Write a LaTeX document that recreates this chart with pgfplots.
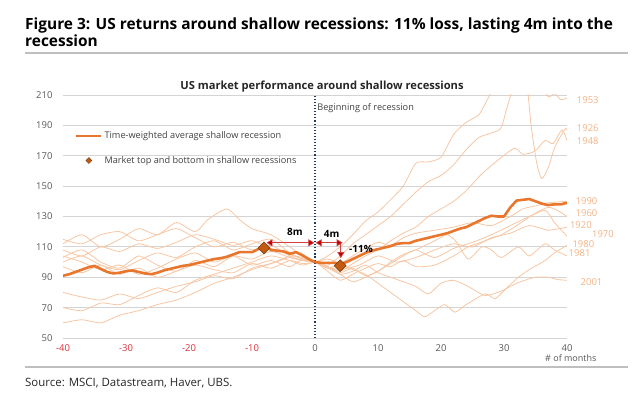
\documentclass[border=0pt]{standalone}
\usepackage{pgfplots}
\pgfplotsset{compat=1.18}
\usepackage{fontspec}
\setmainfont{Open Sans}
\usetikzlibrary{arrows.meta}
\definecolor{avgc}{HTML}{E8762C}
\definecolor{thinc}{HTML}{F7C6A4}
\definecolor{yearc}{HTML}{F4B183}
\definecolor{diac}{HTML}{C55A11}
\definecolor{diab}{HTML}{6B3A12}
\definecolor{negred}{HTML}{E0303A}
\definecolor{tickg}{HTML}{595959}
\definecolor{navy}{HTML}{1F3864}
\definecolor{arrred}{HTML}{C00000}
\begin{document}
\begin{tikzpicture}
\path[use as bounding box] (-63bp,-61bp) rectangle (577bp,338bp);
\begin{axis}[
  scale only axis, width=504bp, height=243bp,
  xmin=-40, xmax=40, ymin=50, ymax=210,
  axis line style={draw=none},
  major tick length=0pt,
  ytick={50,70,...,210},
  ymajorgrids, grid style={draw=black!17, line width=0.9bp},
  xtick={-40,-30,...,40},
  xticklabels={\textcolor{negred}{-40},\textcolor{negred}{-30},\textcolor{negred}{-20},\textcolor{negred}{-10},0,10,20,30,40},
  /pgf/number format/assume math mode=true,
  tick label style={font=\fontsize{9.5}{11}\selectfont, text=tickg},
  yticklabel style={xshift=-7bp},
  xticklabel style={yshift=-3bp},
  clip mode=individual,
  legend cell align=left,
  legend style={draw=none, fill=none, font=\fontsize{9.2}{11}\selectfont, text=black!75,
    at={(axis cs:-38.6,188.5)}, anchor=north west, row sep=12bp},
]
% thin lines
\addplot[thinc, line width=0.8bp, smooth, tension=0.4, forget plot] coordinates {(-40,103) (-37,108) (-34,100) (-31,96) (-28,104) (-25,98) (-22,94) (-19,101) (-16,97) (-13,104) (-10,102) (-7,107) (-4,103) (-2,101) (0,100) (2,97) (4,95) (7,98) (10,104) (13,100) (16,103) (19,108) (22,112) (25,110) (28,116) (31,119) (34,124) (37,121) (40,123)};
\addplot[thinc, line width=0.8bp, smooth, tension=0.4, forget plot] coordinates {(-40,100) (-37,104) (-34,98) (-31,95) (-28,101) (-25,106) (-22,103) (-19,110) (-16,114) (-13,108) (-10,112) (-7,115) (-4,106) (-2,102) (0,100) (2,98) (4,104) (6,112) (8,118) (10,124) (12,130) (14,138) (16,146) (18,153) (20,157) (22,164) (24,174) (26,182) (28,185) (29.5,188) (30.5,202) (31.5,214) (33.5,218) (34.3,190) (35.2,165) (36,155) (37,162) (38,175) (39,183) (39.8,188) (40,187)};
\addplot[thinc, line width=0.8bp, smooth, tension=0.4, forget plot] coordinates {(-40,70) (-37,68) (-34,73) (-31,72) (-28,78) (-25,83) (-22,80) (-19,88) (-16,92) (-13,96) (-10,100) (-7,104) (-4,101) (-2,98) (0,100) (2,97) (4,94) (6,99) (8,104) (10,108) (12,114) (14,119) (16,123) (18,130) (20,135) (22,140) (24,147) (26,156) (27,160) (29.6,169) (31.7,175) (33,171) (34.9,173) (36.5,180) (37.8,178) (39.2,187) (40,180)};
\addplot[thinc, line width=0.8bp, smooth, tension=0.4, forget plot] coordinates {(-40,112) (-37,118) (-34,110) (-31,115) (-28,122) (-25,118) (-22,126) (-19,120) (-17,128) (-14,135) (-12,128) (-10,122) (-7,118) (-4,110) (-2,104) (0,100) (2,104) (4,110) (6,118) (8,127) (10,133) (12,141) (14,150) (16,165) (18,166) (20,169) (22,184) (24,192) (26,197) (27.5,208) (29,218) (32,230) (35,222) (37,209) (38,211) (39,207) (40,208)};
\addplot[thinc, line width=0.8bp, smooth, tension=0.4, forget plot] coordinates {(-40,115) (-37,112) (-34,118) (-31,120) (-28,114) (-25,118) (-22,122) (-19,116) (-16,110) (-13,113) (-10,108) (-7,111) (-4,104) (-2,101) (0,100) (2,94) (4,88) (6,92) (8,96) (10,99) (12,97) (14,101) (16,97) (19,98) (22,104) (24.3,110) (27,114) (29.6,118) (32,124) (34.9,132) (37,136) (38.5,134) (40,130)};
\addplot[thinc, line width=0.8bp, smooth, tension=0.4, forget plot] coordinates {(-40,108) (-37,104) (-34,110) (-31,107) (-28,112) (-25,109) (-22,113) (-19,118) (-16,115) (-13,111) (-10,114) (-7,109) (-4,105) (-2,102) (0,100) (2,96) (4,92) (6,87) (8,90) (10,94) (12,99) (14,104) (16,108) (19,103) (22,109) (25,113) (28,118) (31,124) (33,128) (36.5,134) (38,126) (40,117)};
\addplot[thinc, line width=0.8bp, smooth, tension=0.4, forget plot] coordinates {(-40,97) (-37,93) (-34,98) (-31,92) (-28,96) (-25,90) (-22,94) (-19,98) (-16,95) (-13,93) (-10,99) (-7,96) (-4,101) (-2,99) (0,100) (2,102) (4,99) (6,95) (8,92) (10,86) (12,80) (14,74) (16,68) (17.4,64) (19,68) (20.6,72) (22.2,67) (24,72) (27,79) (28.6,76) (30.7,84) (32.3,90) (34,95) (36.5,101) (38,106) (40,111)};
\addplot[thinc, line width=0.8bp, smooth, tension=0.4, forget plot] coordinates {(-40,104) (-37,100) (-34,95) (-31,98) (-28,92) (-25,96) (-22,102) (-19,106) (-16,100) (-13,104) (-10,98) (-7,101) (-4,97) (-2,102) (0,100) (2,97) (4,93) (6,96) (8,91) (10,94) (12,100) (14,105) (16,108) (19,114) (21,118) (22.5,113) (24.3,102) (26.5,110) (28,108) (29.6,103) (32.3,110) (34,104) (36.5,112) (38,108) (40,104)};
\addplot[thinc, line width=0.8bp, smooth, tension=0.4, forget plot] coordinates {(-40,80) (-37,77) (-34,75) (-31,79) (-28,76) (-25,80) (-22,84) (-19,87) (-16,91) (-13,89) (-10,96) (-7,99) (-4,103) (-2,101) (0,100) (2,96) (4,99) (6,104) (8,109) (10,113) (12,111) (14,116) (16,119) (19,121) (22,123) (25,126) (28,124) (31,130) (33,135) (35,137) (37,139) (40,140)};
\addplot[thinc, line width=0.8bp, smooth, tension=0.4, forget plot] coordinates {(-40,60) (-37,62) (-34,60) (-31,65) (-28,68) (-25,72) (-22,75) (-19,80) (-16,86) (-13,90) (-10,95) (-7,99) (-4,104) (-2,103) (0,100) (2,97) (4,92) (6,94) (8,98) (10,93) (12,90) (14,87) (16,84) (18,79) (20,86) (22,88) (24.3,84) (27,78) (29.6,81) (32,86) (34.9,90) (37,90) (38.5,88.5) (40,88)};
% dotted recession line
\addplot[navy, line width=1.1bp, dotted, forget plot] coordinates {(0,50) (0,210)};
% average
\addplot[avgc, line width=2.6bp, line join=round,
  legend image code/.code={\draw[avgc, line width=2.6bp] (0bp,0bp) -- (25bp,0bp);}] coordinates {
(-40,91) (-39,92) (-38,93.5) (-37,95) (-36,96.5) (-35,97.5) (-34,95.5) (-33,93.5) (-32,92.5) (-31,93) (-30,94) (-29,94.5) (-28,93.5) (-27,92.5) (-26,92) (-25,93) (-24,94.5) (-23,95.5) (-22,96.5) (-21,97.5) (-20,98) (-19,99) (-18,100) (-17,101) (-16,102) (-15,102.5) (-14,103.5) (-13,105) (-12,106.5) (-11,106.5) (-10,106.5) (-9,108.5) (-8,110.5) (-7,108) (-6,107.5) (-5,107) (-4,105.5) (-3,106.5) (-2,104.5) (-1,102) (0,100) (1,99.5) (2,99.5) (3,99.5) (4,98.5) (5,100) (6,102) (7,104) (8,106) (9,107.5) (10,108.5) (11,109.5) (12,110.5) (13,112) (14,112.5) (15,112.5) (16,114) (17,115) (18,116) (19,117) (20,118) (21,119) (22,120.5) (23,122) (24,123) (25,125) (26,127) (27,129) (28,130.5) (29,130) (30,130) (31,136) (32,140.5) (33,141) (34,141.5) (35,140) (36,138.5) (37,137.5) (38,138) (39,138) (40,139)};
\addlegendentry{Time-weighted average shallow recession}
% diamonds
\addplot[only marks, mark=square*, mark size=4.2bp, mark options={rotate=45, fill=diac, draw=diab, line width=0.5bp},
  legend image code/.code={\draw[only marks, mark=square*, mark size=2.1bp, mark options={rotate=45, fill=diac, draw=diab, line width=0.4bp}] plot coordinates {(12.5bp,0bp)};}] coordinates {(-8.1,109.3) (4,97.6)};
\addlegendentry{Market top and bottom in shallow recessions}
% arrows
\addplot[arrred!75, line width=0.7bp, {Triangle[length=6bp,width=7bp,fill=arrred]}-{Triangle[length=6bp,width=7bp,fill=arrred]}, forget plot] coordinates {(-7.7,112.7) (-0.1,112.7)};
\addplot[arrred!75, line width=0.7bp, {Triangle[length=6bp,width=7bp,fill=arrred]}-{Triangle[length=6bp,width=7bp,fill=arrred]}, forget plot] coordinates {(0.1,112.7) (4.4,112.7)};
\addplot[arrred!75, line width=0.7bp, -{Triangle[length=6bp,width=7bp,fill=arrred]}, forget plot] coordinates {(4.1,112.7) (4.1,102.6)};
% annotations
\node[font=\bfseries\fontsize{10}{12}\selectfont] at (axis cs:-3.2,119.9) {8m};
\node[font=\bfseries\fontsize{10}{12}\selectfont] at (axis cs:2.65,118.8) {4m};
\node[font=\bfseries\fontsize{10}{12}\selectfont] at (axis cs:7.3,108.9) {-11\%};
\node[anchor=west, font=\fontsize{9.2}{11}\selectfont, text=black!75, inner sep=0pt] at (axis cs:0.35,201.4) {Beginning of recession};
% year labels
\begin{scope}[every node/.style={font=\fontsize{9.5}{11}\selectfont, text=yearc, inner sep=0pt}]
\node at (axis cs:43.3,206.6) {1953};
\node at (axis cs:43.3,188.2) {1926};
\node at (axis cs:43.3,179.8) {1948};
\node at (axis cs:43.1,140.3) {1990};
\node at (axis cs:43.1,132.2) {1960};
\node at (axis cs:42.2,124.1) {1920};
\node at (axis cs:45.7,118.6) {1970};
\node at (axis cs:42.6,112.1) {1980};
\node at (axis cs:42.0,105.7) {1981};
\node at (axis cs:43.9,86.5) {2001};
\end{scope}
\node[font=\fontsize{9}{11}\selectfont, text=tickg, inner sep=0pt] at (axis cs:40.6,36.9) {\# of months};
\end{axis}
% titles and frame
\node[anchor=base west, inner sep=0pt, font=\bfseries\fontsize{15.5}{18}\selectfont] at (-38bp,308bp) {Figure 3: US returns around shallow recessions: 11\% loss, lasting 4m into the};
\node[anchor=base west, inner sep=0pt, font=\bfseries\fontsize{15.5}{18}\selectfont] at (-38bp,291bp) {recession};
\draw[black!25, line width=2bp] (-38bp,285bp) -- (565bp,285bp);
\node[anchor=base, inner sep=0pt, font=\bfseries\fontsize{11.2}{13}\selectfont, text=black!85] at (259bp,248bp) {US market performance around shallow recessions};
\draw[black!25, line width=2bp] (-38bp,-29bp) -- (565bp,-29bp);
\node[anchor=base west, inner sep=0pt, font=\fontsize{11.5}{13}\selectfont, text=black!85] at (-38bp,-48bp) {Source: MSCI, Datastream, Haver, UBS.};
\end{tikzpicture}
\end{document}
